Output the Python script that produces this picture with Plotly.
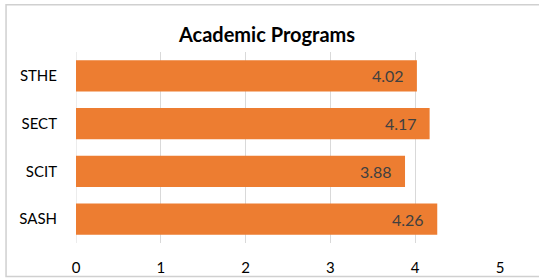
import plotly.graph_objects as go

categories = ["SASH", "SCIT", "SECT", "STHE"]
values = [4.26, 3.88, 4.17, 4.02]
labels = ["4.26", "3.88", "4.17", "4.02"]
tick_vals = [0, 1, 2, 3, 4, 5]

FONT = "Lato, 'Open Sans', sans-serif"

fig = go.Figure()
fig.add_trace(go.Bar(
    x=values, y=categories, orientation="h",
    marker=dict(color="#ED7D31", line=dict(width=0)),
    width=0.65, hoverinfo="skip",
))

for c, v, t in zip(categories, values, labels):
    fig.add_annotation(x=v, y=c, text=t, xanchor="right", yanchor="middle",
                       xshift=-11, showarrow=False,
                       font=dict(family=FONT, size=16, color="#404040"))

fig.add_shape(type="rect", xref="paper", yref="paper",
              x0=-0.165, x1=1.2, y0=-0.176, y1=1.248,
              line=dict(color="#D0D0D0", width=1.5), layer="below")

fig.update_layout(
    width=539, height=280,
    margin=dict(l=76, r=39, t=52, b=37, autoexpand=False),
    paper_bgcolor="white", plot_bgcolor="white",
    showlegend=False,
    title=dict(text="<b>Academic Programs</b>", x=267 / 539, xref="container",
               xanchor="center",
               y=1 - 35 / 280, yref="container", yanchor="middle",
               font=dict(family=FONT, size=20, color="#000000")),
    xaxis=dict(range=[0, 5], tickvals=tick_vals, showgrid=True,
               gridcolor="#D9D9D9", gridwidth=1, zeroline=False,
               showline=False, ticks="", ticklabelstandoff=14,
               automargin=False,
               tickfont=dict(family=FONT, size=15, color="#000000")),
    yaxis=dict(showgrid=False, zeroline=False, showline=False, ticks="",
               ticklabelstandoff=18, automargin=False,
               tickfont=dict(family=FONT, size=15, color="#000000")),
)
fig.add_vline(x=0, line=dict(color="#D9D9D9", width=1), layer="below")

fig.write_html("out.html", config={"displayModeBar": False},
               post_script="document.body.style.margin='0';document.body.style.overflow='hidden';")
